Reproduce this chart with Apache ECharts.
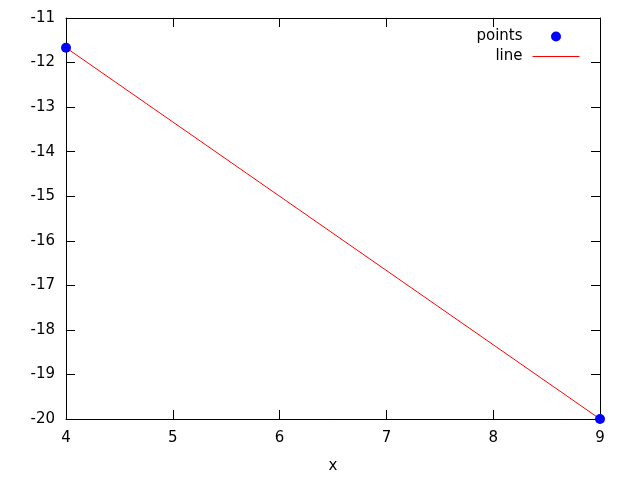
<!DOCTYPE html>
<html><head><meta charset="utf-8">
<script src="https://cdn.jsdelivr.net/npm/echarts@6/dist/echarts.min.js"></script>
<style>html,body{margin:0;padding:0;background:#fff}#c{width:640px;height:480px}</style>
</head><body><div id="c"></div>
<script>
var pointsX = [4, 9];
var pointsY = [-11.6667, -20];
var lineX = [4, 9];
var lineY = [-11.6667, -20];
var xTicks = [4, 5, 6, 7, 8, 9];
var yTicks = [-20, -19, -18, -17, -16, -15, -14, -13, -12, -11];

var FONT = 'DejaVu Sans';
var chart = echarts.init(document.getElementById('c'), null, {renderer: 'canvas'});
function axisCommon(show) {
  return {
    axisLine: {show: true, onZero: false, lineStyle: {color: '#000', width: 1}},
    axisTick: {show: true, inside: true, length: 9, lineStyle: {color: '#000'}},
    splitLine: {show: false},
    axisLabel: {show: show, color: '#000', fontFamily: FONT, fontSize: 15}
  };
}
var xb = Object.assign(axisCommon(true), {type: 'value', min: 4, max: 9, interval: 1, position: 'bottom',
  name: 'x', nameLocation: 'middle', nameGap: 40, nameTextStyle: {color: '#000', fontFamily: FONT, fontSize: 15}});
xb.axisLabel.margin = 12;
var xt = Object.assign(axisCommon(false), {type: 'value', min: 4, max: 9, interval: 1, position: 'top'});
var yl = Object.assign(axisCommon(true), {type: 'value', min: -20, max: -11, interval: 1, position: 'left'});
yl.axisLabel.margin = 11;
var yr = Object.assign(axisCommon(false), {type: 'value', min: -20, max: -11, interval: 1, position: 'right'});

chart.setOption({
  animation: false,
  backgroundColor: '#fff',
  grid: {left: 66, right: 40, top: 18, bottom: 61, containLabel: false},
  xAxis: [xb, xt],
  yAxis: [yl, yr],
  legend: {
    right: 55, top: 24, orient: 'vertical', align: 'right',
    itemWidth: 47, itemHeight: 10, itemGap: 5,
    textStyle: {color: '#000', fontFamily: FONT, fontSize: 15, padding: [0, 5, 0, 0]},
    data: [
      {name: 'points', icon: 'circle', itemStyle: {color: '#0000ff', opacity: 1}},
      {name: 'line', itemStyle: {opacity: 0}, lineStyle: {color: '#ff0000', width: 1}}
    ]
  },
  series: [
    {name: 'line', type: 'line', xAxisIndex: 0, yAxisIndex: 0,
     data: lineX.map(function (x, i) { return [x, lineY[i]]; }),
     symbol: 'none', lineStyle: {color: '#ff0000', width: 1}, itemStyle: {color: '#ff0000'}, z: 2},
    {name: 'points', type: 'scatter', xAxisIndex: 0, yAxisIndex: 0,
     data: pointsX.map(function (x, i) { return [x, pointsY[i]]; }),
     symbol: 'circle', symbolSize: 10, itemStyle: {color: '#0000ff', opacity: 1}, z: 3}
  ]
});
</script></body></html>
